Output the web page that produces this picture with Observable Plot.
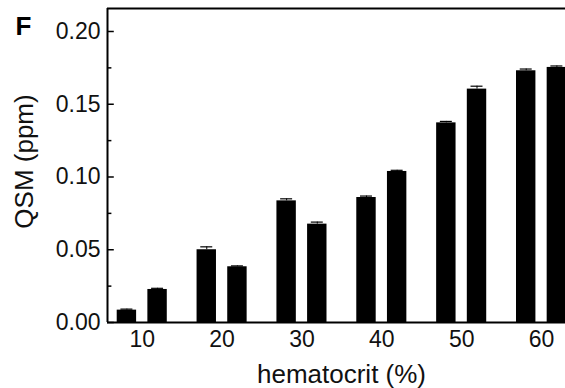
<!DOCTYPE html>
<html>
<head>
<meta charset="utf-8">
<script src="https://cdn.jsdelivr.net/npm/d3@7"></script>
<script src="https://cdn.jsdelivr.net/npm/@observablehq/plot@0.6"></script>
<style>
  html, body { margin: 0; padding: 0; background: #fff; }
  #chart svg { display: block; }
</style>
</head>
<body>
<div id="chart"></div>
<script>
// ---- data ----
const hematocrit = [10, 20, 30, 40, 50, 60];
const seriesA = [0.0085, 0.0500, 0.0836, 0.0859, 0.1372, 0.1730];
const seriesB = [0.0227, 0.0383, 0.0676, 0.1038, 0.1604, 0.1753];
const errA = [0.0007, 0.0020, 0.0014, 0.0010, 0.0010, 0.0012];
const errB = [0.0008, 0.0006, 0.0014, 0.0008, 0.0020, 0.0010];
const yMajorTicks = [0, 0.05, 0.10, 0.15, 0.20];
const yMinorTicks = [0.025, 0.075, 0.125, 0.175];
const xLabel = "hematocrit (%)";
const yLabel = "QSM (ppm)";
const panelLabel = "F";

// layout (data units along the hematocrit axis)
const xDomain = [5.65, 63.0];
const yDomain = [0, 0.2158];
const barOffset = 1.92;   // centre of each bar from the group centre
const barHalf = 1.215;    // half bar width
const capHalf = 0.75;

const rows = [];
hematocrit.forEach((h, i) => {
  rows.push({h, s: "A", c: h - barOffset, v: seriesA[i], e: errA[i]});
  rows.push({h, s: "B", c: h + barOffset, v: seriesB[i], e: errB[i]});
});

const font = "'Liberation Sans', Arial, Helvetica, sans-serif";

const chart = Plot.plot({
  width: 565,
  height: 388,
  marginTop: 8,
  marginBottom: 66,
  marginLeft: 107,
  marginRight: 0,
  style: {fontFamily: font, color: "#111", background: "#fff", overflow: "visible"},
  x: {domain: xDomain, type: "linear"},
  y: {domain: yDomain},
  marks: [
    Plot.rectY(rows, {x1: d => d.c - barHalf, x2: d => d.c + barHalf, y1: 0, y2: "v", fill: "#000"}),
    Plot.ruleX(rows, {x: "c", y1: "v", y2: d => d.v + d.e, stroke: "#000", strokeWidth: 1}),
    Plot.ruleY(rows, {y: d => d.v + d.e, x1: d => d.c - capHalf, x2: d => d.c + capHalf, stroke: "#000", strokeWidth: 1.2}),
    // frame lines
    Plot.ruleY([yDomain[0]], {stroke: "#000", strokeWidth: 2}),
    Plot.ruleY([yDomain[1]], {stroke: "#000", strokeWidth: 1.8}),
    Plot.ruleX([xDomain[0]], {stroke: "#000", strokeWidth: 2}),
    // inward y ticks
    Plot.ruleY(yMajorTicks, {x1: xDomain[0], x2: xDomain[0] + 0.85, stroke: "#000", strokeWidth: 1.5}),
    Plot.ruleY(yMinorTicks, {x1: xDomain[0], x2: xDomain[0] + 0.55, stroke: "#000", strokeWidth: 1.5}),
    Plot.axisY(yMajorTicks, {tickSize: 0, tickPadding: 7, fontSize: 23, tickFormat: d3.format(".2f"), label: null}),
    Plot.axisX(hematocrit, {tickSize: 0, tickPadding: 8, fontSize: 23, label: null}),
    Plot.text([xLabel], {frameAnchor: "bottom", dx: 5, dy: 60, fontSize: 26, lineAnchor: "bottom", fill: "#111"}),
    Plot.text([yLabel], {frameAnchor: "left", dx: -83, dy: -4, rotate: -90, fontSize: 26, textAnchor: "middle", lineAnchor: "middle", fill: "#111"}),
    Plot.text([panelLabel], {frameAnchor: "top-left", dx: -92, dy: 8, fontSize: 26, fontWeight: "bold", textAnchor: "start", lineAnchor: "top", fill: "#000"})
  ]
});
document.getElementById("chart").appendChild(chart);
</script>
</body>
</html>
